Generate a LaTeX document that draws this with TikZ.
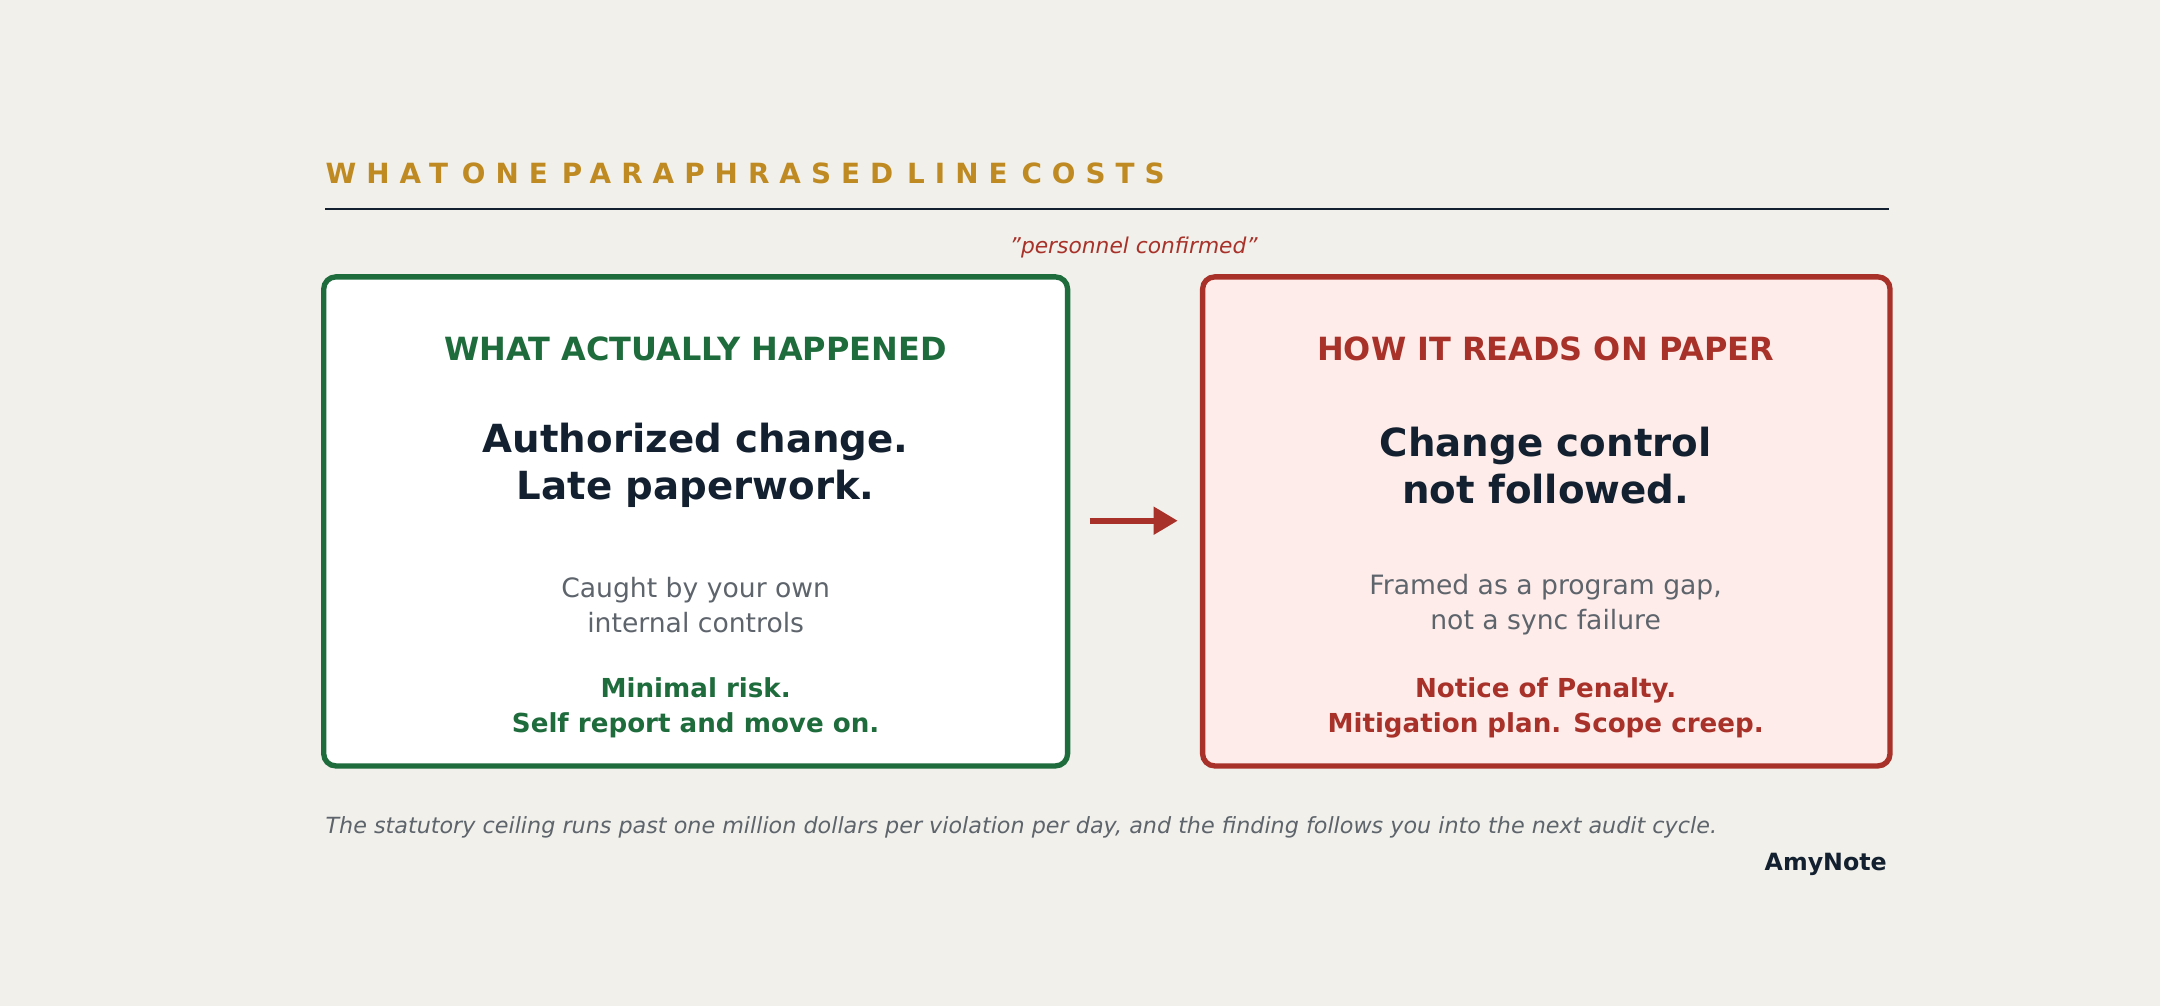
\documentclass[tikz,border=0pt]{standalone}
\usepackage{fontspec}
\setmainfont{DejaVu Sans}
\usetikzlibrary{arrows.meta}
\definecolor{bg}{HTML}{F1F0EB}
\definecolor{gold}{HTML}{BF8A22}
\definecolor{dgreen}{HTML}{1E6B3C}
\definecolor{dred}{HTML}{A8322A}
\definecolor{navy}{HTML}{13202F}
\definecolor{gray}{HTML}{5E646C}
\definecolor{pink}{HTML}{FDECE9}
\begin{document}
\begin{tikzpicture}[x=0.02cm,y=-0.02cm,
  box/.style={rounded corners=5pt,line width=2.2pt},
  head/.style={font=\bfseries\fontsize{13.2}{16}\selectfont,anchor=center},
  big/.style={font=\bfseries\fontsize{16}{19.5}\selectfont,text=navy,align=center,anchor=center},
  sub/.style={font=\fontsize{11}{14.5}\selectfont,text=gray,align=center,anchor=center},
  con/.style={font=\bfseries\fontsize{10.8}{14.5}\selectfont,align=center,anchor=center}]
\fill[bg] (0,0) rectangle (1568,730);
\useasboundingbox (0,0) rectangle (1568,730);
\node[anchor=base west,inner sep=0,text=gold,font=\bfseries\fontsize{11.5}{15}\selectfont\addfontfeature{LetterSpace=36}] (title) at (236,133) {WHAT\hspace{0.5em}ONE\hspace{0.5em}PARAPHRASED\hspace{0.5em}LINE\hspace{0.5em}COSTS};
\coordinate (r1) at (236,152); \coordinate (r2) at (1371,152);
\draw[navy,line width=0.9pt] (r1) -- (r2);
\node[text=dred,font=\itshape\fontsize{9}{12}\selectfont] (q) at (823,180) {\symbol{34}personnel confirmed\symbol{34}};
\draw[box,dgreen,fill=white] (235,201) rectangle (775,556);
\draw[box,dred,fill=pink] (873,201) rectangle (1372,556);
\node[head,text=dgreen] (lh) at (505,253) {WHAT ACTUALLY HAPPENED};
\node[big] (lbig) at (505,338) {Authorized change.\\Late paperwork.};
\node[sub] (ls) at (505,439) {Caught by your own\\internal controls};
\node[con,text=dgreen] (lc) at (505,514) {Minimal risk.\\Self report and move on.};
\node[head,text=dred] (rh) at (1122,253) {HOW IT READS ON PAPER};
\node[big] (rbig) at (1122,338) {Change control\\not followed.};
\node[sub] (rs) at (1122,439) {Framed as a program gap,\\not a sync failure};
\node[con,text=dred] (rc) at (1122,514) {Notice of Penalty.\\Mitigation plan. Scope creep.};
\coordinate (a1) at (791,378); \coordinate (a2) at (855,378);
\draw[dred,line width=2.5pt,-{Triangle[length=10pt,width=11pt]}] (a1) -- (a2);
\node[anchor=base west,inner sep=0,text=gray,font=\itshape\fontsize{9.2}{12}\selectfont] (foot) at (236,605) {The statutory ceiling runs past one million dollars per violation per day, and the finding follows you into the next audit cycle.};
\node[anchor=base east,inner sep=0,text=navy,font=\bfseries\fontsize{9.8}{12}\selectfont] (brand) at (1370,632) {AmyNote};
\end{tikzpicture}
\end{document}
